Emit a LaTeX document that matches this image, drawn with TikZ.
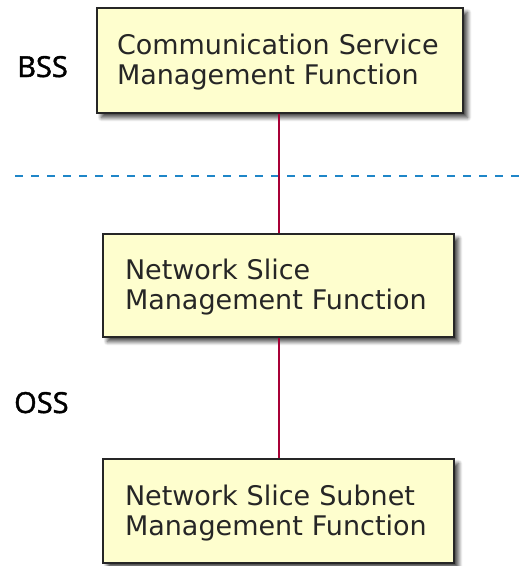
\documentclass[tikz,border=0pt]{standalone}
\usepackage{fontspec}
\setmainfont{DejaVu Sans}
\newfontfamily\labelfont{Open Sans}[FakeBold=1.6]
\usetikzlibrary{shadows.blur}
\definecolor{boxfill}{HTML}{FEFECE}
\definecolor{linkred}{HTML}{A80036}
\definecolor{sepblue}{HTML}{1F86C8}
% lifts the first line a little lower inside each box
\newcommand{\firstline}{\rule{0pt}{24.5pt}}
\begin{document}
\begin{tikzpicture}[x=1pt,y=-1pt,
  fnbox/.style={draw=black!85, line width=1.5pt, fill=boxfill,
    blur shadow={shadow xshift=4.5pt, shadow yshift=-4.5pt, shadow blur steps=8,
      shadow blur radius=4pt, shadow opacity=75},
    align=left, font=\fontsize{27}{30}\selectfont, text=black!85,
    inner xsep=0pt, inner ysep=0pt, text width=#1},
  layer/.style={font=\labelfont\fontsize{29}{30}\selectfont, inner sep=0pt},
  link/.style={draw=linkred, line width=2pt}]
\useasboundingbox (0,0) rectangle (520,566);

\node[fnbox=326pt, minimum width=366pt, minimum height=105pt] (csmf) at (280,60.5)
  {\firstline Communication Service\\Management Function};
\node[fnbox=307pt, minimum width=351pt, minimum height=103pt] (nsmf) at (278.5,285.5)
  {\firstline Network Slice\\Management Function};
\node[fnbox=307pt, minimum width=351pt, minimum height=104pt] (nssmf) at (278.5,511)
  {\firstline Network Slice Subnet\\Management Function};

\coordinate (sepL) at (15,176);
\coordinate (sepR) at (520,176);
\draw[sepblue, line width=1.3pt, dash pattern=on 8pt off 8pt] (sepL) -- (sepR);

\draw[link] (nsmf.north |- csmf.south) -- (nsmf.north);
\draw[link] (nsmf.south) -- (nssmf.north);

\node[layer, anchor=base west] (bss) at (17,77) {BSS};
\node[layer, anchor=base west] (oss) at (14,413) {OSS};
\end{tikzpicture}
\end{document}
